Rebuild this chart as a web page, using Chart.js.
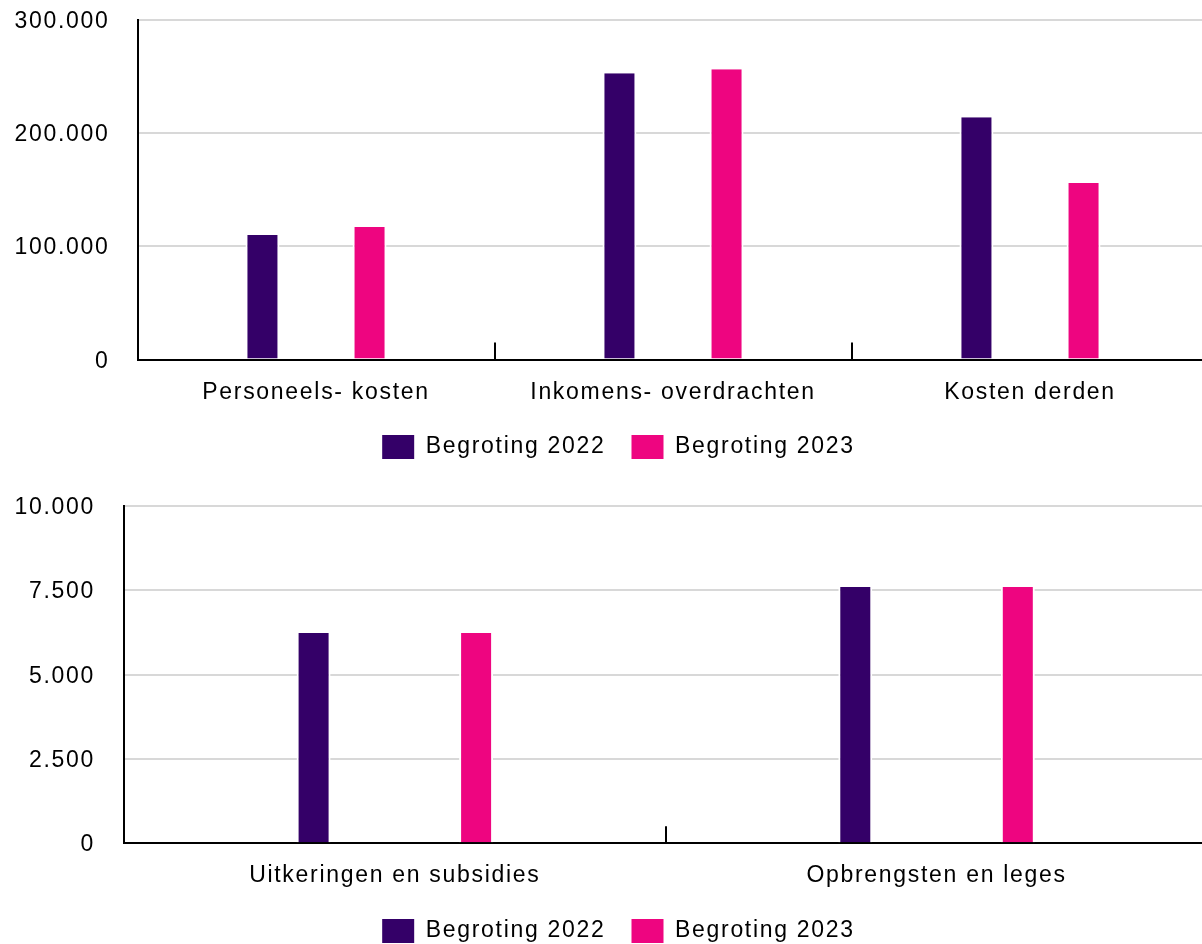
<!DOCTYPE html>
<html><head><meta charset="utf-8">
<script src="https://cdn.jsdelivr.net/npm/chart.js@4/dist/chart.umd.min.js"></script>
<style>
html,body{margin:0;padding:0;background:#fff;overflow:hidden;width:1202px;height:944px;position:relative;}
#c1{position:absolute;left:0;top:0;}
#c2{position:absolute;left:0;top:469px;}
</style></head><body>
<canvas id="c1" width="1237" height="469"></canvas>
<canvas id="c2" width="1237" height="484"></canvas>
<script>
const seriesNames = ['Begroting 2022', 'Begroting 2023'];
const seriesColors = ['#340068', '#ee0580'];

const topCategories = ['Personeels- kosten', 'Inkomens- overdrachten', 'Kosten derden'];
const top2022 = [110000, 253000, 214000];
const top2023 = [117000, 256500, 156000];
const topTicks = [0, 100000, 200000, 300000];

const bottomCategories = ['Uitkeringen en subsidies', 'Opbrengsten en leges'];
const bottom2022 = [6230, 7590];
const bottom2023 = [6230, 7590];
const bottomTicks = [0, 2500, 5000, 7500, 10000];

Chart.defaults.font.family = "'Liberation Sans', Arial, sans-serif";
Chart.defaults.font.size = 23;
Chart.defaults.color = '#000';

function fmt(v) { return String(v).replace(/\B(?=(\d{3})+(?!\d))/g, '.'); }

function setSpacing(c) {
  const ctx = c.ctx;
  if ('letterSpacing' in ctx) ctx.letterSpacing = '1.7px';
}
const textSpacing = {
  id: 'textSpacing',
  beforeInit: setSpacing, beforeUpdate: setSpacing, beforeLayout: setSpacing,
  beforeDraw: setSpacing
};

function makeChart(canvas, cats, d1, d2, ticks, g) {
  return new Chart(canvas, {
    type: 'bar',
    plugins: [textSpacing],
    data: {
      labels: cats,
      datasets: [
        { label: seriesNames[0], data: d1, backgroundColor: seriesColors[0] },
        { label: seriesNames[1], data: d2, backgroundColor: seriesColors[1] }
      ]
    },
    options: {
      responsive: false,
      animation: false,
      devicePixelRatio: 1,
      events: [],
      layout: { padding: { top: g.padTop, left: 0, right: 0, bottom: 0 } },
      datasets: {
        bar: {
          categoryPercentage: 0.6,
          barPercentage: g.barPct,
          borderColor: '#ffffff',
          borderWidth: { left: 2, right: 2, top: 0, bottom: 0 },
          borderSkipped: 'start',
          inflateAmount: 0
        }
      },
      scales: {
        x: {
          position: 'bottom',
          offset: true,
          grid: {
            offset: true, display: true, drawOnChartArea: false, drawTicks: true,
            tickLength: -17, tickColor: '#000', tickWidth: 2, color: '#000', lineWidth: 2
          },
          border: { display: true, color: '#000', width: 2 },
          ticks: { padding: 36, maxRotation: 0, minRotation: 0, autoSkip: false, color: '#000' },
          afterFit: s => { s.height = g.xHeight; }
        },
        y: {
          position: 'left',
          min: ticks[0],
          max: ticks[ticks.length - 1],
          afterBuildTicks: s => { s.ticks = ticks.map(v => ({ value: v })); },
          ticks: { padding: 0, labelOffset: 1.8, color: '#000', callback: v => fmt(v) },
          grid: {
            drawTicks: true,
            tickLength: g.yPad,
            tickColor: 'rgba(0,0,0,0)',
            lineWidth: 2,
            color: c => (c.tick && c.tick.value === 0) ? 'rgba(0,0,0,0)' : '#d8d8d8'
          },
          border: { display: true, color: '#000', width: 2 },
          afterFit: s => { s.width = g.yWidth; }
        },
        yR: {
          position: 'right',
          display: true,
          ticks: { display: false },
          grid: { display: false, drawTicks: false },
          border: { display: false },
          afterFit: s => { s.width = g.rightWidth; }
        }
      },
      plugins: {
        tooltip: { enabled: false },
        legend: {
          position: 'bottom',
          align: 'center',
          labels: {
            boxWidth: 32,
            boxHeight: 24,
            padding: 26,
            color: '#000',
            font: { size: 23 },
            generateLabels: chart => Chart.defaults.plugins.legend.labels.generateLabels(chart)
              .map(l => Object.assign(l, { lineWidth: 0, strokeStyle: l.fillStyle }))
          }
        }
      }
    }
  });
}

makeChart(document.getElementById('c1'), topCategories, top2022, top2023, topTicks, {
  padTop: 20, yWidth: 137.5, rightWidth: 28.5, xHeight: 49.5, yPad: 28, barPct: 34 / (357 * 0.3)
});
makeChart(document.getElementById('c2'), bottomCategories, bottom2022, bottom2023, bottomTicks, {
  padTop: 36.7, yWidth: 124, rightWidth: 29.6, xHeight: 49.7, yPad: 29, barPct: 34 / (541.7 * 0.3)
});
</script>
</body></html>
